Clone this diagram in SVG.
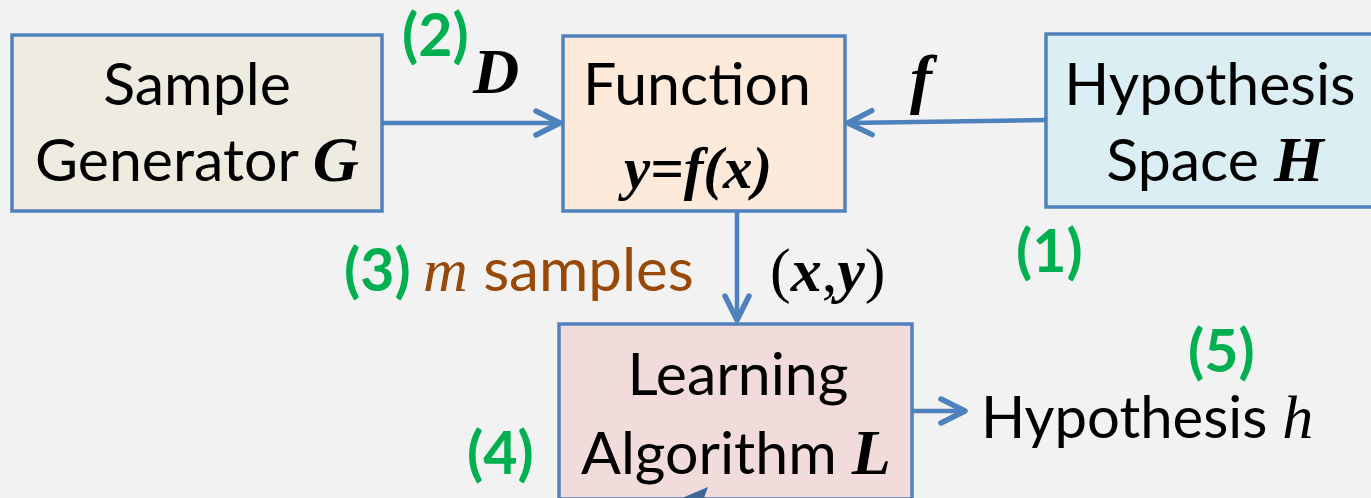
<svg xmlns="http://www.w3.org/2000/svg" width="1371" height="498" viewBox="0 0 1371 498">
<defs>
<marker id="arr" markerUnits="userSpaceOnUse" markerWidth="40" markerHeight="40" viewBox="-30 -20 40 40" refX="0" refY="0" orient="auto" overflow="visible">
<path d="M-25,-12 L-1,0 L-25,12" fill="none" stroke="#4f81bd" stroke-width="5.5" stroke-linecap="round" stroke-linejoin="round"/>
</marker>
<style>
.box{stroke:#4f81bd;stroke-width:3.5}
.t{font-family:Lato,"Liberation Sans",sans-serif;font-size:59px;fill:#000;text-anchor:middle}
.m{font-family:"Liberation Serif",serif;font-weight:bold;font-style:italic}
.mi{font-family:"Liberation Serif",serif;font-style:italic}
.g{font-family:Lato,"Liberation Sans",sans-serif;font-weight:bold;font-size:59px;fill:#00b050}
.c{stroke:#4f81bd;stroke-width:4.5;fill:none}
</style>
</defs>
<rect width="1371" height="498" fill="#f2f2f2"/>
<g id="sample-generator">
<rect class="box" x="12" y="35" width="370" height="176" fill="#eeece1"/>
<text class="t" x="197" y="105">Sample</text>
<text class="t" x="197" y="181">Generator <tspan class="m" font-size="64">G</tspan></text>
</g>
<g id="function">
<rect class="box" x="563" y="36" width="282" height="175" fill="#fdeada"/>
<text class="t" x="697" y="105">Function</text>
<text class="t m" x="698" y="188" font-size="63">y=f(x)</text>
</g>
<g id="hypothesis-space">
<rect class="box" x="1046" y="34" width="340" height="173" fill="#dbeef4"/>
<text class="t" x="1210" y="105">Hypothesis</text>
<text class="t" x="1215" y="181">Space <tspan class="m" font-size="64">H</tspan></text>
</g>
<g id="learning-algorithm">
<rect class="box" x="559" y="324" width="353" height="175" fill="#f2dcdb"/>
<text class="t" x="738" y="395">Learning</text>
<text class="t" x="736" y="474">Algorithm <tspan class="m" font-size="64">L</tspan></text>
</g>
<g id="hypothesis-output">
<text class="t" x="981" y="438" font-size="58" style="text-anchor:start;font-size:58px">Hypothesis <tspan class="mi" font-size="62">h</tspan></text>
</g>
<g id="connectors">
<line class="c" x1="382" y1="123" x2="561" y2="123" marker-end="url(#arr)"/>
<line class="c" x1="1045" y1="120" x2="847" y2="123" marker-end="url(#arr)"/>
<line class="c" x1="737" y1="212" x2="737" y2="321" marker-end="url(#arr)"/>
<line class="c" x1="913" y1="411" x2="966" y2="411" marker-end="url(#arr)"/>
<polygon points="708,487 682,498 704,498" fill="#3d6897"/>
</g>
<g id="labels">
<text class="g" x="402" y="56">(2)</text>
<text class="m" x="473" y="93" font-size="64">D</text>
<text class="m" x="910" y="101" font-size="66">f</text>
<text class="g" x="1016" y="272">(1)</text>
<text class="g" x="344" y="291">(3)</text>
<text x="423" y="291" fill="#984807" font-size="60" font-family="Lato,'Liberation Sans',sans-serif"><tspan class="mi" font-size="62">m</tspan> samples</text>
<text x="770" y="291" font-size="62" font-family="'Liberation Serif',serif">(<tspan class="m">x</tspan>,<tspan class="m">y</tspan>)</text>
<text class="g" x="467" y="474">(4)</text>
<text class="g" x="1188" y="372">(5)</text>
</g>
</svg>
